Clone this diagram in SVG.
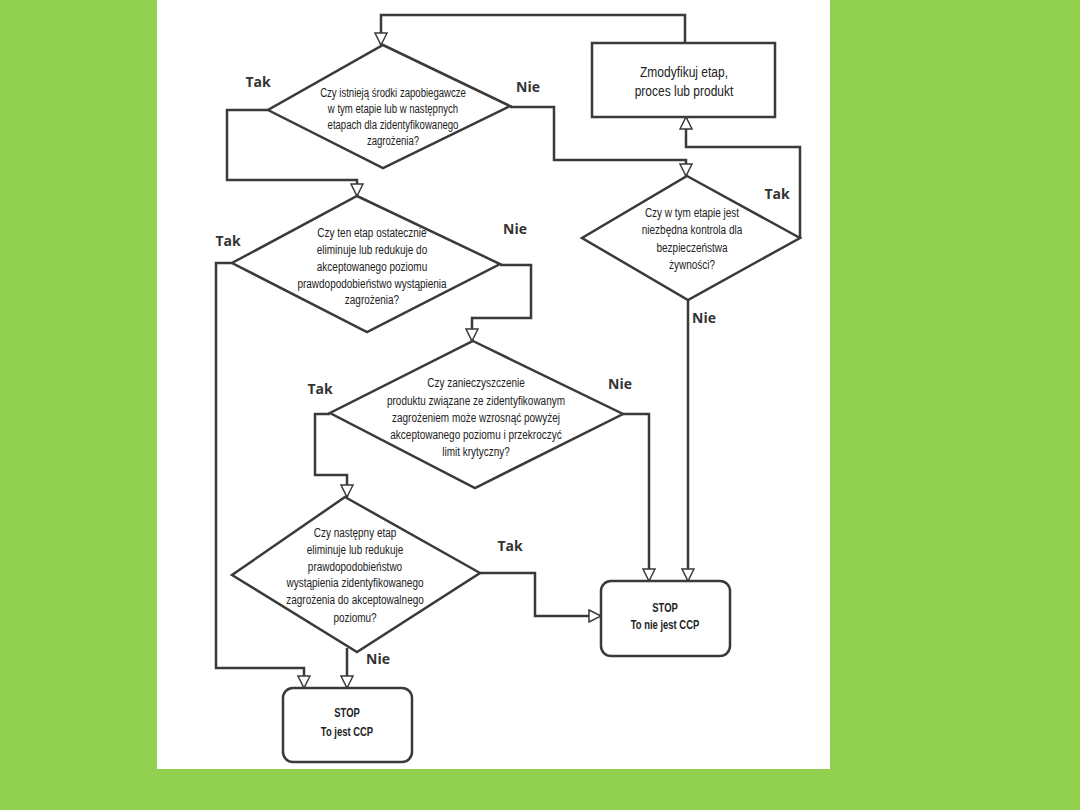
<svg xmlns="http://www.w3.org/2000/svg" width="1080" height="810" viewBox="0 0 1080 810">
<style>
.q{font-family:"Liberation Sans",Arial,sans-serif;font-size:13.5px;fill:#222;text-anchor:middle}
.b{font-family:"Liberation Sans",Arial,sans-serif;font-size:13.5px;font-weight:bold;fill:#222;text-anchor:middle}
.l{font-family:"Open Sans","Liberation Sans",Arial,sans-serif;font-size:14px;font-weight:bold;fill:#333;text-anchor:middle}
.s{fill:#fff;stroke:#3a3a3a;stroke-width:2.5}
.c{fill:none;stroke:#3a3a3a;stroke-width:2.5;marker-end:url(#a)}
</style>
<defs>
<marker id="a" markerUnits="userSpaceOnUse" markerWidth="14" markerHeight="14" refX="12" refY="6" orient="auto" viewBox="-1 -1 14 14">
<path d="M0,0 L12,6 L0,12 z" fill="#fff" stroke="#3a3a3a" stroke-width="1.5"/>
</marker>
</defs>
<rect x="0" y="0" width="1080" height="810" fill="#92d050"/>
<rect x="157" y="0" width="673" height="769" fill="#fff"/>
<g id="connectors">
<path class="c" d="M685,43 V15 H381 V45"/>
<path class="c" d="M268,110 H227 V180 H357 V196"/>
<path class="c" d="M510,107 H554 V160 H686 V176"/>
<path class="c" d="M800,238 V147 H686 V117"/>
<path class="c" d="M688,300 V581"/>
<path class="c" d="M232,263 H216 V668 H304 V688"/>
<path class="c" d="M500,265 H531 V318 H472 V341"/>
<path class="c" d="M330,414 H315 V475 H347 V497"/>
<path class="c" d="M623,414 H649 V581"/>
<path class="c" d="M480,573 H535 V616 H601"/>
<path class="c" d="M347,648 V688"/>
</g>
<g id="d1">
<polygon class="s" points="383,45 510,106 383,168 268,110"/>
<g transform="translate(393,0) scale(0.71,1)">
<text class="q" x="0" y="97">Czy istnieją środki zapobiegawcze</text>
<text class="q" x="0" y="113">w tym etapie lub w następnych</text>
<text class="q" x="0" y="129">etapach dla zidentyfikowanego</text>
<text class="q" x="0" y="145">zagrożenia?</text>
</g>
</g>
<g id="box_modify">
<rect class="s" x="592" y="43" width="183" height="74"/>
<g transform="translate(684,0) scale(0.8,1)">
<text class="q" x="0" y="77" style="font-size:15px">Zmodyfikuj etap,</text>
<text class="q" x="0" y="96" style="font-size:15px">proces lub produkt</text>
</g>
</g>
<g id="d4">
<polygon class="s" points="687,176 800,238 688,300 582,238"/>
<g transform="translate(692,0) scale(0.74,1)">
<text class="q" x="0" y="217">Czy w tym etapie jest</text>
<text class="q" x="0" y="234">niezbędna kontrola dla</text>
<text class="q" x="0" y="252">bezpieczeństwa</text>
<text class="q" x="0" y="269">żywności?</text>
</g>
</g>
<g id="d2">
<polygon class="s" points="357,196 500,264 367,332 232,263"/>
<g transform="translate(372,0) scale(0.74,1)">
<text class="q" x="0" y="237">Czy ten etap ostatecznie</text>
<text class="q" x="0" y="254">eliminuje lub redukuje do</text>
<text class="q" x="0" y="271">akceptowanego poziomu</text>
<text class="q" x="0" y="288">prawdopodobieństwo wystąpienia</text>
<text class="q" x="0" y="304">zagrożenia?</text>
</g>
</g>
<g id="d3">
<polygon class="s" points="473,341 623,414 475,488 330,413"/>
<g transform="translate(476,0) scale(0.74,1)">
<text class="q" x="0" y="387">Czy zanieczyszczenie</text>
<text class="q" x="0" y="405">produktu związane ze zidentyfikowanym</text>
<text class="q" x="0" y="422">zagrożeniem może wzrosnąć powyżej</text>
<text class="q" x="0" y="439">akceptowanego poziomu i przekroczyć</text>
<text class="q" x="0" y="456">limit krytyczny?</text>
</g>
</g>
<g id="d5">
<polygon class="s" points="345,497 480,573 357,652 232,575"/>
<g transform="translate(355,0) scale(0.74,1)">
<text class="q" x="0" y="537">Czy następny etap</text>
<text class="q" x="0" y="554">eliminuje lub redukuje</text>
<text class="q" x="0" y="571">prawdopodobieństwo</text>
<text class="q" x="0" y="587">wystąpienia zidentyfikowanego</text>
<text class="q" x="0" y="604">zagrożenia do akceptowalnego</text>
<text class="q" x="0" y="622">poziomu?</text>
</g>
</g>
<g id="stop_ccp">
<rect class="s" x="283" y="688" width="129" height="74" rx="10"/>
<g transform="translate(347,0) scale(0.7,1)">
<text class="b" x="0" y="717">STOP</text>
<text class="b" x="0" y="736">To jest CCP</text>
</g>
</g>
<g id="stop_not_ccp">
<rect class="s" x="601" y="581" width="129" height="75" rx="10"/>
<g transform="translate(665,0) scale(0.7,1)">
<text class="b" x="0" y="612">STOP</text>
<text class="b" x="0" y="629">To nie jest CCP</text>
</g>
</g>
<g id="labels">
<text class="l" x="258" y="87">Tak</text>
<text class="l" x="528" y="92">Nie</text>
<text class="l" x="777" y="199">Tak</text>
<text class="l" x="704" y="323">Nie</text>
<text class="l" x="228" y="246">Tak</text>
<text class="l" x="515" y="234">Nie</text>
<text class="l" x="320" y="394">Tak</text>
<text class="l" x="620" y="389">Nie</text>
<text class="l" x="510" y="551">Tak</text>
<text class="l" x="378" y="664">Nie</text>
</g>
</svg>
